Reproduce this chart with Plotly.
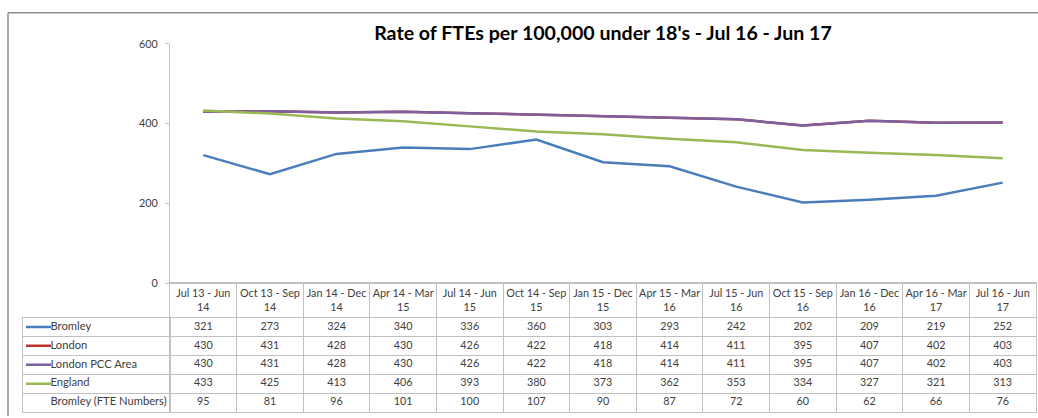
import plotly.graph_objects as go

periods = ["Jul 13 - Jun 14", "Oct 13 - Sep 14", "Jan 14 - Dec 14", "Apr 14 - Mar 15",
           "Jul 14 - Jun 15", "Oct 14 - Sep 15", "Jan 15 - Dec 15", "Apr 15 - Mar 16",
           "Jul 15 - Jun 16", "Oct 15 - Sep 16", "Jan 16 - Dec 16", "Apr 16 - Mar 17",
           "Jul 16 - Jun 17"]
bromley = [321, 273, 324, 340, 336, 360, 303, 293, 242, 202, 209, 219, 252]
london = [430, 431, 428, 430, 426, 422, 418, 414, 411, 395, 407, 402, 403]
london_pcc = [430, 431, 428, 430, 426, 422, 418, 414, 411, 395, 407, 402, 403]
england = [433, 425, 413, 406, 393, 380, 373, 362, 353, 334, 327, 321, 313]
bromley_fte = [95, 81, 96, 101, 100, 107, 90, 87, 72, 60, 62, 66, 76]
y_ticks = [0, 200, 400, 600]

series = [
    ("Bromley", bromley, "#4a7ebb"),
    ("London", london, "#c0302c"),
    ("London PCC Area", london_pcc, "#7d60a0"),
    ("England", england, "#98b954"),
]
table_rows = [(n, v, c) for n, v, c in series] + [("Bromley (FTE Numbers)", bromley_fte, None)]

W, H = 1038, 418
FONT = "Lato, Calibri, Arial, sans-serif"
TXT = "#404040"
GRID = "#c0c0c0"
HEADER_H = 35.5   # header row height (px)
ROW_H = 19.5      # body row height (px)
N_ROWS = len(table_rows)
TABLE_H = HEADER_H + ROW_H * N_ROWS
LABEL_W = 147.0
TABLE_TOP = 285
NUM_SIZE = 10.8
LABEL_SIZE = 11.2

def two_lines(p):
    head, tail = p.rsplit(" ", 1)
    return head + "<br>" + tail

xs = list(range(len(periods)))
fig = go.Figure()

# chart lines
for name, vals, col in series:
    fig.add_trace(go.Scatter(x=xs, y=vals, mode="lines", name=name,
                             line=dict(color=col, width=2.5), showlegend=False,
                             hoverinfo="x+y+name", xaxis="x", yaxis="y"))

# data table: header + values, laid on the same category positions as the chart
fig.add_trace(go.Scatter(x=xs, y=[HEADER_H / 2 + 1.2] * len(xs), mode="text",
                         text=[two_lines(p) for p in periods], textposition="middle center",
                         textfont=dict(family=FONT, size=NUM_SIZE, color=TXT),
                         showlegend=False, hoverinfo="skip", xaxis="x2", yaxis="y2"))
for r, (name, vals, col) in enumerate(table_rows):
    fig.add_trace(go.Scatter(x=xs, y=[HEADER_H + ROW_H * (r + 0.5)] * len(xs), mode="text",
                             text=[str(v) for v in vals], textposition="middle center",
                             textfont=dict(family=FONT, size=NUM_SIZE, color=TXT),
                             showlegend=False, hoverinfo="skip", xaxis="x2", yaxis="y2"))

# row labels with legend keys
for r, (name, vals, col) in enumerate(table_rows):
    yc = ROW_H * (r + 0.5)
    if col is not None:
        fig.add_trace(go.Scatter(x=[3, 28], y=[yc, yc], mode="lines",
                                 line=dict(color=col, width=2.5), showlegend=False,
                                 hoverinfo="skip", xaxis="x3", yaxis="y3"))
    fig.add_trace(go.Scatter(x=[27.5], y=[yc], mode="text", text=[name],
                             textposition="middle right", cliponaxis=False,
                             textfont=dict(family=FONT, size=LABEL_SIZE, color=TXT),
                             showlegend=False, hoverinfo="skip", xaxis="x3", yaxis="y3"))

chart_x_dom = [170 / W, 1036 / W]
table_y_dom = [1 - (TABLE_TOP + TABLE_H) / H, 1 - TABLE_TOP / H]
body_y_dom = [1 - (TABLE_TOP + TABLE_H) / H, 1 - (TABLE_TOP + HEADER_H) / H]

box = dict(showline=True, mirror=True, linecolor=GRID, linewidth=1, zeroline=False,
           showticklabels=False, ticks="", showgrid=True, gridcolor=GRID, gridwidth=1)

fig.update_layout(
    width=W, height=H,
    margin=dict(l=0, r=0, t=0, b=0),
    paper_bgcolor="white", plot_bgcolor="white",
    font=dict(family=FONT, color=TXT),
    title=dict(text="<b>Rate of FTEs per 100,000 under 18's - Jul 16 - Jun 17</b>",
               x=603 / W, xanchor="center", y=1 - 33 / H, yanchor="middle",
               font=dict(family=FONT, size=19.6, color="black")),
    xaxis=dict(domain=chart_x_dom, range=[-0.5, len(periods) - 0.5],
               showticklabels=False, ticks="", showgrid=False, zeroline=False,
               showline=True, linecolor=GRID, linewidth=1, fixedrange=True),
    yaxis=dict(domain=[1 - TABLE_TOP / H, 1 - 38 / H], range=[0, 600], tickvals=y_ticks,
               showgrid=False, zeroline=False, showline=True, linecolor=GRID, linewidth=1,
               ticks="outside", ticklen=4, tickcolor=GRID, fixedrange=True,
               tickfont=dict(family=FONT, size=NUM_SIZE, color=TXT), ticklabelstandoff=5),
    xaxis2=dict(domain=chart_x_dom, range=[-0.5, len(periods) - 0.5], anchor="y2",
                tickvals=[i + 0.5 for i in xs[:-1]], fixedrange=True, **box),
    yaxis2=dict(domain=table_y_dom, range=[TABLE_H, 0], anchor="x2",
                tickvals=[HEADER_H + ROW_H * k for k in range(N_ROWS)], fixedrange=True, **box),
    xaxis3=dict(domain=[23 / W, 170 / W], range=[0, LABEL_W], anchor="y3",
                tickvals=[], fixedrange=True, **box),
    yaxis3=dict(domain=body_y_dom, range=[ROW_H * N_ROWS, 0], anchor="x3",
                tickvals=[ROW_H * k for k in range(1, N_ROWS)], fixedrange=True, **box),
    shapes=[
        dict(type="line", xref="paper", yref="paper", x0=8 / W, x1=1.01, y0=1 - 6 / H, y1=1 - 6 / H,
             line=dict(color="#8c8c8c", width=1.5)),
        dict(type="line", xref="paper", yref="paper", x0=8 / W, x1=8 / W, y0=-0.01, y1=1 - 6 / H,
             line=dict(color="#8c8c8c", width=1.5)),
    ],
)

fig.write_html("out.html", config={"displayModeBar": False},
               post_script="document.body.style.margin='0px';")
